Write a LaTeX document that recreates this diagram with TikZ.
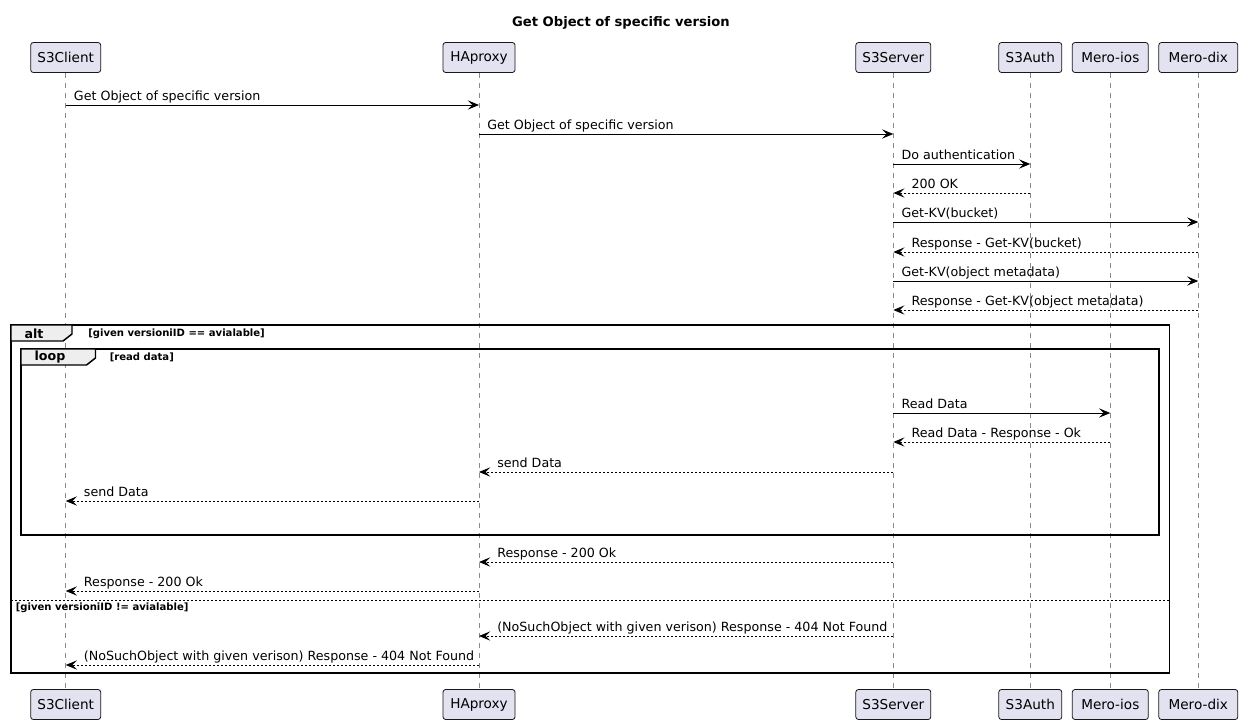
\documentclass[tikz,border=0pt]{standalone}
\usepackage{fontspec}
\setmainfont{DejaVu Sans}
\usetikzlibrary{arrows.meta,calc}
\definecolor{partfill}{HTML}{E2E2F0}
\definecolor{partdraw}{HTML}{181818}
\definecolor{tabfill}{HTML}{EEEEEE}
\definecolor{lifec}{HTML}{8A8A8A}
\tikzset{
  part/.style={draw=partdraw, fill=partfill, rounded corners=2pt, line width=0.6pt,
    minimum height=22.5pt, minimum width=#1*0.75pt, inner xsep=0pt, inner ysep=0pt,
    font=\fontsize{10.2}{12}\selectfont},
  life/.style={draw=lifec, line width=0.5pt, dash pattern=on 3.75pt off 3.75pt},
  msgline/.style={draw=black, line width=0.7pt, -{Stealth[length=8.5pt,width=7pt,inset=3.5pt]}},
  replyline/.style={msgline, dash pattern=on 1.5pt off 1.5pt},
  lbl/.style={anchor=base west, inner sep=0pt, font=\fontsize{9.5}{11}\selectfont},
  framebox/.style={draw=black, line width=1.1pt},
  tabshape/.style={draw=black, fill=tabfill, line width=1.1pt},
  tablbl/.style={inner sep=0pt, font=\bfseries\fontsize{9.5}{11}\selectfont},
  guardlbl/.style={anchor=west, inner sep=0pt, font=\bfseries\fontsize{7.55}{9}\selectfont},
  sepline/.style={draw=black, line width=0.6pt, dash pattern=on 1.5pt off 1.5pt},
  titlelbl/.style={inner sep=0pt, font=\bfseries\fontsize{9.85}{12}\selectfont}
}
% left-to-right message: from, to, y, label, style
\newcommand\msgLR[5]{%
  \draw[#5] (#1 |- 0,#3) -- (#2 |- 0,#3);
  \node[lbl] at ($(#1 |- 0,#3)+(8,-4.5)$) {#4};}
% right-to-left message: from, to, y, label, style
\newcommand\msgRL[5]{%
  \draw[#5] (#1 |- 0,#3) -- (#2 |- 0,#3);
  \node[lbl] at ($(#2 |- 0,#3)+(18,-4.5)$) {#4};}
\begin{document}
\begin{tikzpicture}[x=0.75pt,y=-0.75pt]
\useasboundingbox (0,0) rectangle (1243,725);
\fill[white] (0,0) rectangle (1243,725);

\node[titlelbl] (title) at (621,23) {Get Object of specific version};

% participants
\node[part=70] (p1) at (65.7,57.5) {S3Client};
\node[part=72] (p2) at (479,57.5) {HAproxy};
\node[part=75] (p3) at (893.3,57.5) {S3Server};
\node[part=63] (p4) at (1030.3,57.5) {S3Auth};
\node[part=76] (p5) at (1110.3,57.5) {Mero-ios};
\node[part=79] (p6) at (1198.3,57.5) {Mero-dix};
\node[part=70] (b1) at (65.7,704.5) {S3Client};
\node[part=72] (b2) at (479,704.5) {HAproxy};
\node[part=75] (b3) at (893.3,704.5) {S3Server};
\node[part=63] (b4) at (1030.3,704.5) {S3Auth};
\node[part=76] (b5) at (1110.3,704.5) {Mero-ios};
\node[part=79] (b6) at (1198.3,704.5) {Mero-dix};

% lifelines
\foreach \i in {1,...,6} { \draw[life] (p\i.south) -- (b\i.north); }

% alt frame
\draw[framebox] (11,325) rectangle (1169.5,673);
\draw[tabshape] (11,325) -- (72,325) -- (72,334) -- (63,341) -- (11,341) -- cycle;
\node[tablbl] (altlbl) at (34,333.5) {alt};
\node[guardlbl] (altguard) at (88,333.5) {[given versioniID == avialable]};
\draw[sepline] (11,600.5) -- (1169.5,600.5);
\node[guardlbl] (elseguard) at (15.5,608) {[given versioniID != avialable]};

% loop frame
\draw[framebox] (21,349) rectangle (1159,535);
\draw[tabshape] (21,349) -- (95.5,349) -- (95.5,358) -- (86.5,365) -- (21,365) -- cycle;
\node[tablbl] (looplbl) at (50,357.5) {loop};
\node[guardlbl] (loopguard) at (109.5,357.5) {[read data]};

% messages
\msgLR{p1}{p2}{105}{Get Object of specific version}{msgline}
\msgLR{p2}{p3}{134}{Get Object of specific version}{msgline}
\msgLR{p3}{p4}{164}{Do authentication}{msgline}
\msgRL{p4}{p3}{193}{200 OK}{replyline}
\msgLR{p3}{p6}{222}{Get-KV(bucket)}{msgline}
\msgRL{p6}{p3}{252}{Response - Get-KV(bucket)}{replyline}
\msgLR{p3}{p6}{281}{Get-KV(object metadata)}{msgline}
\msgRL{p6}{p3}{310}{Response - Get-KV(object metadata)}{replyline}
\msgLR{p3}{p5}{413}{Read Data}{msgline}
\msgRL{p5}{p3}{442}{Read Data - Response - Ok}{replyline}
\msgRL{p3}{p2}{472}{send Data}{replyline}
\msgRL{p2}{p1}{501}{send Data}{replyline}
\msgRL{p3}{p2}{562}{Response - 200 Ok}{replyline}
\msgRL{p2}{p1}{591}{Response - 200 Ok}{replyline}
\msgRL{p3}{p2}{636}{(NoSuchObject with given verison) Response - 404 Not Found}{replyline}
\msgRL{p2}{p1}{665}{(NoSuchObject with given verison) Response - 404 Not Found}{replyline}
\end{tikzpicture}
\end{document}
